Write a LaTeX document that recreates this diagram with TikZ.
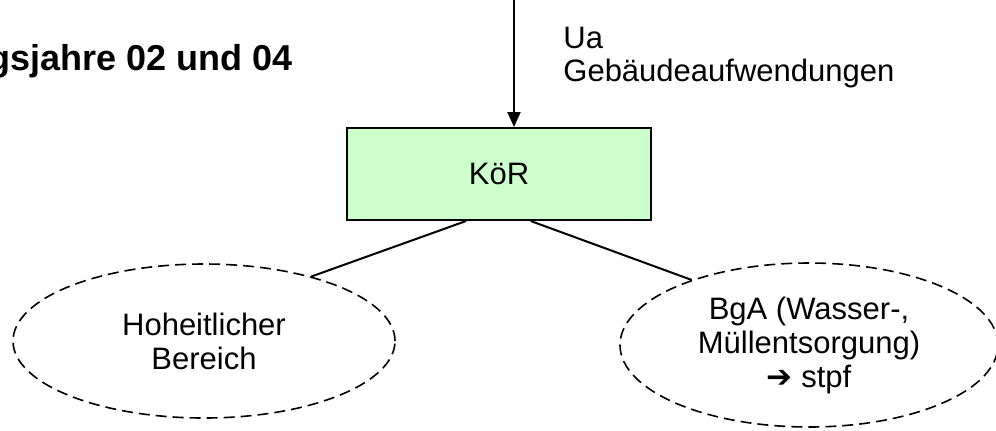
\documentclass[tikz,border=0pt]{standalone}
\usepackage{fontspec}
\setmainfont{Liberation Sans}
\newfontfamily\symfont{DejaVu Sans}
\usepackage{tikz}
\usepackage{xcolor}
\usetikzlibrary{positioning, arrows.meta}
\usetikzlibrary{shapes, positioning}
\definecolor{korgruen}{RGB}{204,255,204}

\begin{document}
\begin{tikzpicture}[
            x=0.5pt, y=-0.5pt,
            every node/.style={font=\fontsize{15.5}{17}\selectfont, inner sep=0pt},
            korbox/.style={rectangle, draw, line width=1pt, fill=korgruen,
                minimum width=152pt, minimum height=46pt},
            bereich/.style={ellipse, draw, dashed, dash pattern=on 5.5pt off 3pt,
                line width=0.8pt, align=center},
            zweig/.style={line width=1pt},
        ]
            \useasboundingbox (0,0) rectangle (996,430);
            \node[anchor=base east, font=\bfseries\fontsize{18}{20}\selectfont] (titel) at (293,70) {gsjahre 02 und 04};
            \node[korbox] (kor) at (499,174) {KöR};
            \coordinate (oben) at (514,0);
            \draw[line width=1pt, -{Triangle[length=7.5pt, width=6.5pt]}] (oben) -- (oben |- kor.north);
            \node[anchor=base west] (ua) at (563,48) {Ua};
            \node[anchor=base west] (gebaeude) at (563,81) {Gebäudeaufwendungen};
            \node[bereich, minimum width=191pt, minimum height=77pt] (hoheit) at (204,341) {Hoheitlicher\\Bereich};
            \node[bereich, minimum width=189pt, minimum height=82pt] (bga) at (809,345) {BgA (Wasser-,\\Müllentsorgung)\\{\symfont\bfseries ➔} stpf};
            \draw[zweig] (kor.235) -- (hoheit.31);
            \draw[zweig] (kor.304) -- (bga.151);
        \end{tikzpicture}
\end{document}
